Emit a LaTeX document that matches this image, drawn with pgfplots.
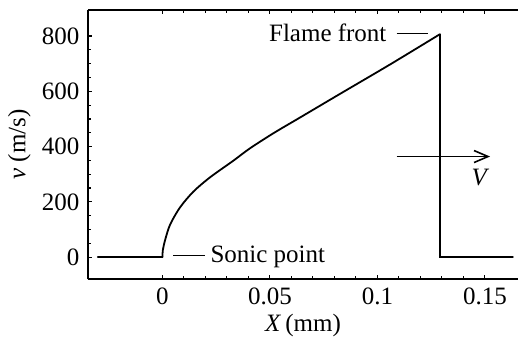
\documentclass[border=0pt]{standalone}
\usepackage{fontspec}
\setmainfont{Liberation Serif}
\usepackage{pgfplots}
\pgfplotsset{compat=1.18}
\usetikzlibrary{arrows.meta}
\begin{document}
\fontsize{12.5}{14}\selectfont
\begin{tikzpicture}
\begin{axis}[
  name=ax,
  scale only axis,
  width=215pt, height=134.8pt,
  xmin=-0.0346, xmax=0.1654,
  ymin=-80, ymax=895,
  axis x line*=box, axis y line*=left,
  x axis line style={-}, y axis line style={-},
  axis line style={line width=0.9pt},
  tick align=inside,
  xtick={0,0.05,0.1,0.15},
  xticklabels={0,0.05,0.1,0.15},
  ytick={0,200,400,600,800},
  yticklabels={0,200,400,600,800},
  minor x tick num=4,
  minor y tick num=3,
  major tick length=2.2pt,
  minor tick length=1.6pt,
  every tick/.style={black, line width=0.6pt},
  /pgf/number format/assume math mode=true,
  ticklabel style={font=\fontsize{12.5}{14}\selectfont},
  xlabel={\textit{X}\,(mm)},
  ylabel={\textit{v} (m/s)},
  label style={font=\fontsize{12.5}{14}\selectfont},
  xlabel style={yshift=4pt},
  ylabel style={yshift=-3pt},
  clip=false,
]
\addplot[black, line width=0.9pt, line cap=round] coordinates {(-0.03,0) (0,0)};
\addplot[black, line width=0.9pt, line cap=round, smooth, tension=0.5] coordinates {
(0,0) (0.0002,25) (0.0013,63) (0.0036,118) (0.0082,180)
(0.0144,237) (0.0222,289) (0.033,349) (0.0408,394) (0.052,450) (0.064,505)
(0.0827,591) (0.1059,697) (0.129,806)
};
\addplot[black, line width=0.9pt, line cap=round, line join=miter] coordinates {(0.129,806) (0.129,0) (0.163,0)};
\draw[line width=0.7pt] (axis cs:0.109,809) -- (axis cs:0.1236,809);
\node[anchor=east, inner sep=0pt] at (axis cs:0.1044,812) {Flame front};
\draw[line width=0.7pt] (axis cs:0.0051,6) -- (axis cs:0.0199,6);
\node[anchor=base west, inner sep=0pt] at (axis cs:0.0222,-19) {Sonic point};
\draw[line width=0.8pt, -{Straight Barb[length=7pt,width=6pt]}] (axis cs:0.109,364) -- (axis cs:0.1524,364);
\node[anchor=base, inner sep=0pt] at (axis cs:0.1479,261) {\textit{V}};
\end{axis}
\pgfresetboundingbox
\useasboundingbox ([xshift=-44pt,yshift=-30.35pt]ax.south west) rectangle ([yshift=4.85pt]ax.north east);
\end{tikzpicture}
\end{document}
